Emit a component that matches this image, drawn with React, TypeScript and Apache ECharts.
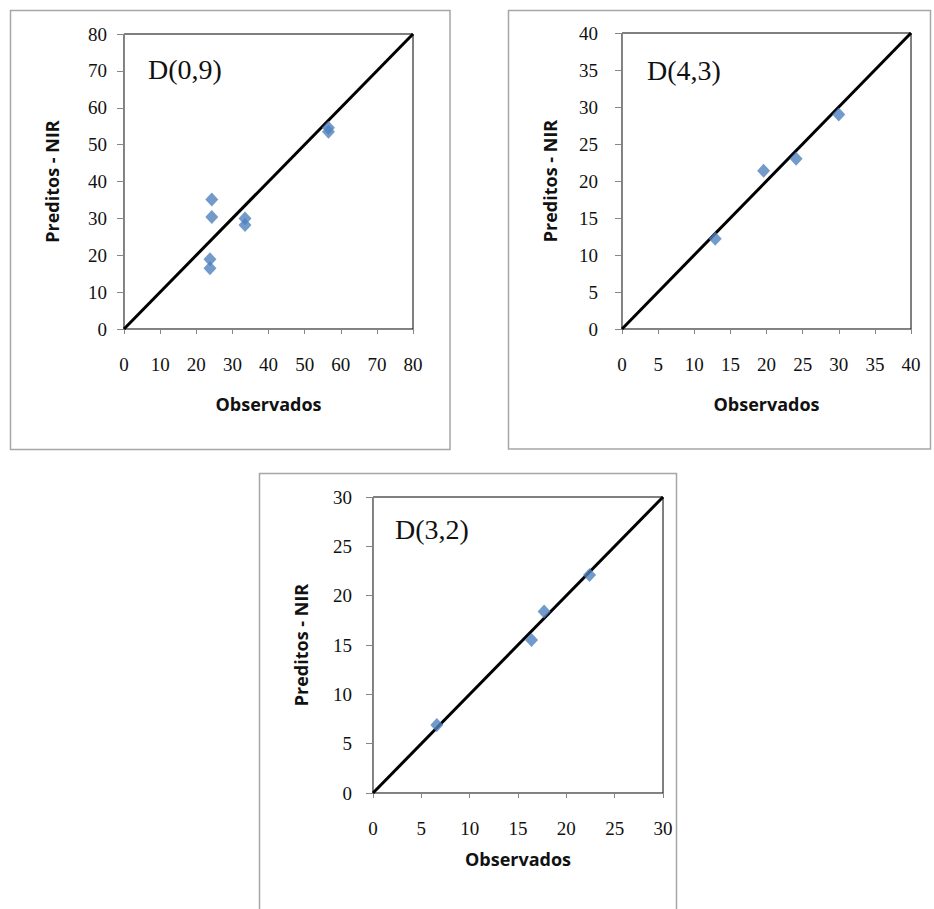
import React, { useEffect, useRef } from "react";
import * as echarts from "echarts";

// Chart 1: D(0,9)
const obs1 = [24.3, 24.3, 23.8, 23.8, 33.5, 33.5, 56.6, 56.6];
const pred1 = [35.1, 30.4, 18.9, 16.5, 30.0, 28.2, 54.6, 53.5];
// Chart 2: D(4,3)
const obs2 = [12.9, 19.6, 24.1, 30.0];
const pred2 = [12.2, 21.4, 23.0, 29.0];
// Chart 3: D(3,2)
const obs3 = [6.6, 16.4, 17.7, 22.4];
const pred3 = [6.9, 15.5, 18.4, 22.1];

const titles = ["D(0,9)", "D(4,3)", "D(3,2)"];
const axisMax = [80, 40, 30];
const axisStep = [10, 5, 5];
const xName = "Observados";
const yName = "Preditos - NIR";

const BLUE = "#4F81BD";
const AXIS_GRAY = "#868686";

export default function App() {
  const ref = useRef<HTMLDivElement>(null);

  useEffect(() => {
    if (!ref.current) return;
    const chart = echarts.init(ref.current, null, { renderer: "svg" });

    const grids = [
      { left: 124, top: 34, width: 289, height: 295 },
      { left: 622, top: 33, width: 289, height: 296 },
      { left: 373, top: 497, width: 290, height: 296 },
    ];
    const yLabelMargin = [17, 24, 21];
    const xNameGap = [66, 66, 57];

    const pairs = [
      obs1.map((v, i) => [v, pred1[i]]),
      obs2.map((v, i) => [v, pred2[i]]),
      obs3.map((v, i) => [v, pred3[i]]),
    ];

    const tickLabel = {
      fontFamily: "Liberation Serif",
      fontSize: 19,
      color: "#111",
    };
    const nameStyle = {
      fontFamily: "Open Sans",
      fontWeight: "bold" as const,
      fontSize: 18,
      color: "#111",
    };

    const xAxis = grids.map((_, i) => ({
      type: "value",
      gridIndex: i,
      min: 0,
      max: axisMax[i],
      interval: axisStep[i],
      name: xName,
      nameLocation: "middle",
      nameGap: xNameGap[i],
      nameTextStyle: nameStyle,
      axisLine: { show: true, onZero: false, lineStyle: { color: AXIS_GRAY, width: 1 } },
      axisTick: { show: true, inside: false, length: 5, lineStyle: { color: AXIS_GRAY } },
      axisLabel: { ...tickLabel, margin: 26 },
      splitLine: { show: false },
    }));

    const yAxis = grids.map((_, i) => ({
      type: "value",
      gridIndex: i,
      min: 0,
      max: axisMax[i],
      interval: axisStep[i],
      name: yName,
      nameLocation: "middle",
      nameGap: 63,
      nameTextStyle: nameStyle,
      axisLine: { show: true, onZero: false, lineStyle: { color: AXIS_GRAY, width: 1 } },
      axisTick: { show: true, inside: false, length: 7, lineStyle: { color: AXIS_GRAY } },
      axisLabel: { ...tickLabel, margin: yLabelMargin[i] },
      splitLine: { show: false },
    }));

    const series: any[] = [];
    grids.forEach((_, i) => {
      series.push({
        type: "line",
        xAxisIndex: i,
        yAxisIndex: i,
        data: [
          [0, 0],
          [axisMax[i], axisMax[i]],
        ],
        symbol: "none",
        lineStyle: { color: "#000", width: 3 },
        z: 2,
      });
      series.push({
        type: "scatter",
        xAxisIndex: i,
        yAxisIndex: i,
        data: pairs[i],
        symbol: "diamond",
        symbolSize: [13, 14],
        itemStyle: { color: BLUE },
        z: 3,
      });
    });

    const titlePos = [
      { x: 148, y: 69 },
      { x: 647, y: 70 },
      { x: 395, y: 529 },
    ];

    const boxes = [
      { x: 10.5, y: 10.5, width: 439.5, height: 439 },
      { x: 508.5, y: 10.5, width: 422, height: 438.5 },
      { x: 259.5, y: 473.5, width: 417, height: 450 },
    ];

    chart.setOption({
      animation: false,
      backgroundColor: "#fff",
      grid: grids.map((g) => ({
        ...g,
        show: true,
        borderColor: "#000",
        borderWidth: 1,
        backgroundColor: "transparent",
        containLabel: false,
      })),
      xAxis,
      yAxis,
      series,
      graphic: [
        ...boxes.map((b) => ({
          type: "rect",
          shape: b,
          style: { fill: "none", stroke: "#a6a6a6", lineWidth: 1.5 },
          z: 0,
          silent: true,
        })),
        ...titles.map((t, i) => ({
          type: "text",
          x: titlePos[i].x,
          y: titlePos[i].y,
          style: {
            text: t,
            fontFamily: "Liberation Serif",
            fontSize: 28,
            fill: "#111",
            verticalAlign: "middle",
            align: "left",
          },
          z: 10,
        })),
      ],
    });

    return () => chart.dispose();
  }, []);

  return (
    <div
      ref={ref}
      style={{ position: "absolute", left: 0, top: 0, width: 934, height: 909 }}
    />
  );
}
